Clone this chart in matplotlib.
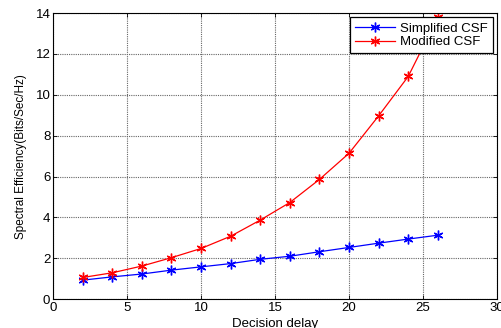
import numpy as np
import matplotlib.pyplot as plt

plt.rcParams['font.family'] = ['Liberation Sans', 'DejaVu Sans']

delay = [2, 4, 6, 8, 10, 12, 14, 16, 18, 20, 22, 24, 26]
simplified = [0.93, 1.09, 1.23, 1.42, 1.58, 1.74, 1.95, 2.10, 2.32, 2.53, 2.74, 2.94, 3.13]
modified = [1.06, 1.29, 1.62, 2.03, 2.48, 3.08, 3.87, 4.73, 5.86, 7.14, 8.97, 10.9, 13.8]

fig = plt.figure(figsize=(5.01, 3.28), dpi=100)
ax = fig.add_axes([0.106, 0.088, 0.886, 0.872])

# matlab style asterisk markers
ast = (6, 2, 0)
ax.plot(delay, simplified, 'b-', marker=ast, lw=0.9, ms=7, mew=1.0, label='Simplified CSF')
ax.plot(delay, modified, 'r-', marker=ast, lw=0.9, ms=7, mew=1.0, label='Modified CSF')

ax.set_xlim(0, 30)
ax.set_ylim(0, 14)
ax.set_xticks(np.arange(0, 31, 5))
ax.set_yticks(np.arange(0, 15, 2))
ax.grid(True, color='0.4', linestyle=(0, (1, 1)), linewidth=0.8)
ax.tick_params(direction='in', top=True, right=True, labelsize=9.5, length=3, width=0.6, pad=2)
for s in ax.spines.values():
    s.set_linewidth(0.8)

ax.set_xlabel('Decision delay', fontsize=9.5, labelpad=3)
ax.set_ylabel('Spectral Efficiency(Bits/Sec/Hz)', fontsize=8.5, labelpad=6)

leg = ax.legend(loc='upper right', fontsize=9.5, fancybox=False, framealpha=1,
                edgecolor='k', borderaxespad=0.3, handlelength=3.0,
                borderpad=0.4, labelspacing=0.1, handletextpad=0.4)
leg.get_frame().set_linewidth(0.9)

fig.savefig('out.png', dpi=100)
